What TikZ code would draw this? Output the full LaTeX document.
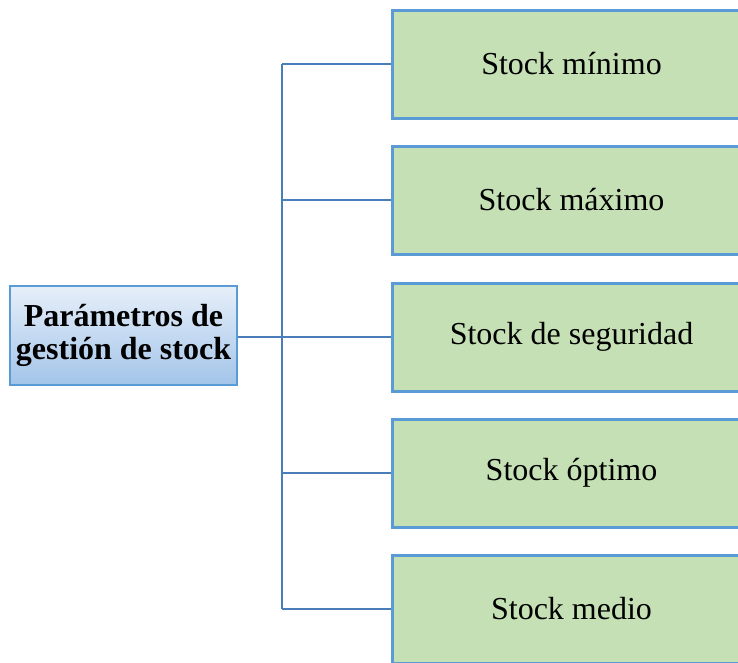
\documentclass[tikz,border=0pt]{standalone}
\usepackage{fontspec}
\setmainfont{Liberation Serif}
\definecolor{boxgreen}{HTML}{C5E0B4}
\definecolor{boxline}{HTML}{5B9BD5}
\definecolor{connline}{HTML}{4A7EBB}
\definecolor{paramtop}{HTML}{E6EFF9}
\definecolor{parambot}{HTML}{A3C4E9}
\tikzset{
  stockbox/.style={draw=boxline, line width=3pt, fill=boxgreen, anchor=west,
    minimum width=358pt, minimum height=108pt, inner sep=0pt,
    font=\fontsize{32}{36}\selectfont},
  parambox/.style={draw=boxline, line width=2.5pt, top color=paramtop, bottom color=parambot,
    minimum width=227pt, minimum height=99pt, inner sep=0pt, align=center,
    font=\fontsize{32}{33}\selectfont\bfseries},
  conn/.style={draw=connline, line width=2.5pt}
}
\begin{document}
\begin{tikzpicture}[x=1pt,y=-1pt]
        \useasboundingbox (0,0) rectangle (738,662);
        \clip (0,0) rectangle (738,662);
        % parameter box and branches
        \node[parambox] (param) at (123.5,335.5) {Parámetros de\\gestión de stock};
        \coordinate (trunk) at (282,337);
        \node[stockbox] (minimo) at (391,64) {Stock mínimo};
        \node[stockbox] (maximo) at (391,200) {Stock máximo};
        \node[stockbox] (seguridad) at (391,337) {Stock de seguridad};
        \node[stockbox] (optimo) at (391,473) {Stock óptimo};
        \node[stockbox] (medio) at (391,609) {Stock medio};
        \draw[conn] (param.east |- trunk) -- (trunk);
        \draw[conn] (trunk |- minimo.west) -- (trunk |- medio.west);
        \draw[conn] (trunk |- minimo.west) -- (minimo.west);
        \draw[conn] (trunk |- maximo.west) -- (maximo.west);
        \draw[conn] (trunk |- seguridad.west) -- (seguridad.west);
        \draw[conn] (trunk |- optimo.west) -- (optimo.west);
        \draw[conn] (trunk |- medio.west) -- (medio.west);
\end{tikzpicture}
\end{document}
